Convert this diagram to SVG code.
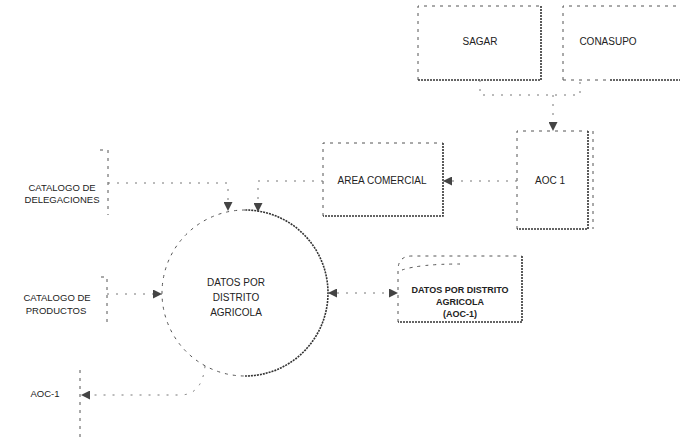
<svg xmlns="http://www.w3.org/2000/svg" width="680" height="442" viewBox="0 0 680 442">
<style>
  text { font-family: "Liberation Sans", Arial, sans-serif; fill: #222; text-anchor: middle; }
  .lbl { font-size: 10px; }
  .sm { font-size: 9.5px; }
  .st { font-size: 9px; font-weight: bold; }
  .thin { fill: none; stroke: #555; stroke-width: 1; stroke-dasharray: 3 5; }
  .thick { fill: none; stroke: #333; stroke-width: 1.6; stroke-dasharray: 2 1; }
  .flow { fill: none; stroke: #777; stroke-width: 1; stroke-dasharray: 2 7; }
</style>
<defs>
  <marker id="ah" viewBox="0 0 10 10" refX="10" refY="5" markerWidth="9" markerHeight="9" orient="auto-start-reverse" markerUnits="userSpaceOnUse">
    <path d="M0,0 L10,5 L0,10 Z" fill="#444"/>
  </marker>
</defs>
<rect width="680" height="442" fill="#fff"/>

<g id="sagar">
  <path class="thin" d="M418,80 V6 H541"/>
  <path class="thick" d="M541,6 V80 H418"/>
  <text class="lbl" x="480" y="45">SAGAR</text>
</g>
<g id="conasupo">
  <path class="thin" d="M563,80 V6 H680"/>
  <path class="thin" d="M563,80 H610"/>
  <path class="thick" d="M610,80 H680"/>
  <text class="lbl" x="608" y="45">CONASUPO</text>
</g>
<g id="aoc1">
  <path class="thin" d="M517,229 V131 H588"/>
  <path class="thick" d="M588,131 V229 H517"/>
  <path class="thin" d="M593,131 V229"/>
  <text class="lbl" x="550" y="184">AOC 1</text>
</g>
<g id="area-comercial">
  <path class="thin" d="M323,216 V143 H443"/>
  <path class="thick" d="M443,143 V216 H323"/>
  <text class="lbl" x="382" y="184">AREA COMERCIAL</text>
</g>
<g id="datos-proceso">
  <path class="thin" d="M245,210 A83,83 0 1 0 245,376"/>
  <path class="thick" d="M245,376 A83,83 0 0 0 245,210" stroke-dasharray="2 3"/>
  <text class="lbl" x="236" y="286" font-size="10.5">DATOS POR</text>
  <text class="lbl" x="236" y="301" font-size="10.5">DISTRITO</text>
  <text class="lbl" x="236" y="316" font-size="10.5">AGRICOLA</text>
</g>
<g id="datos-store">
  <path class="thin" d="M398,322 V270 Q398,256 412,256 H522"/>
  <path class="thin" d="M402,270 Q420,264 460,264"/>
  <path class="thick" d="M522,256 V322 H398"/>
  <text class="st" x="460" y="293">DATOS POR DISTRITO</text>
  <text class="st" x="460" y="305">AGRICOLA</text>
  <text class="st" x="460" y="317">(AOC-1)</text>
</g>
<g id="cat-delegaciones">
  <path class="thin" d="M100,150 H108 V215"/>
  <text class="sm" x="62" y="191">CATALOGO DE</text>
  <text class="sm" x="62" y="203">DELEGACIONES</text>
</g>
<g id="cat-productos">
  <path class="thin" d="M101,277 H107 V322"/>
  <text class="sm" x="57" y="301">CATALOGO DE</text>
  <text class="sm" x="56" y="314">PRODUCTOS</text>
</g>
<g id="aoc-1-store">
  <path class="thin" d="M80,370 V442"/>
  <text class="sm" x="45" y="397">AOC-1</text>
</g>

<g id="connectors">
  <path class="flow" d="M480,80 V95 H580 V80"/>
  <path class="flow" d="M553,95 V131" marker-end="url(#ah)"/>
  <path class="flow" d="M517,181 H443" marker-end="url(#ah)"/>
  <path class="flow" d="M108,183 H228 V211" marker-end="url(#ah)"/>
  <path class="flow" d="M323,181 H258 V212" marker-end="url(#ah)"/>
  <path class="flow" d="M107,294 H162" marker-end="url(#ah)"/>
  <path class="flow" d="M328,293 H398" marker-start="url(#ah)" marker-end="url(#ah)"/>
  <path class="flow" d="M205,366 Q202,395 180,395 H81" marker-end="url(#ah)"/>
</g>
</svg>
